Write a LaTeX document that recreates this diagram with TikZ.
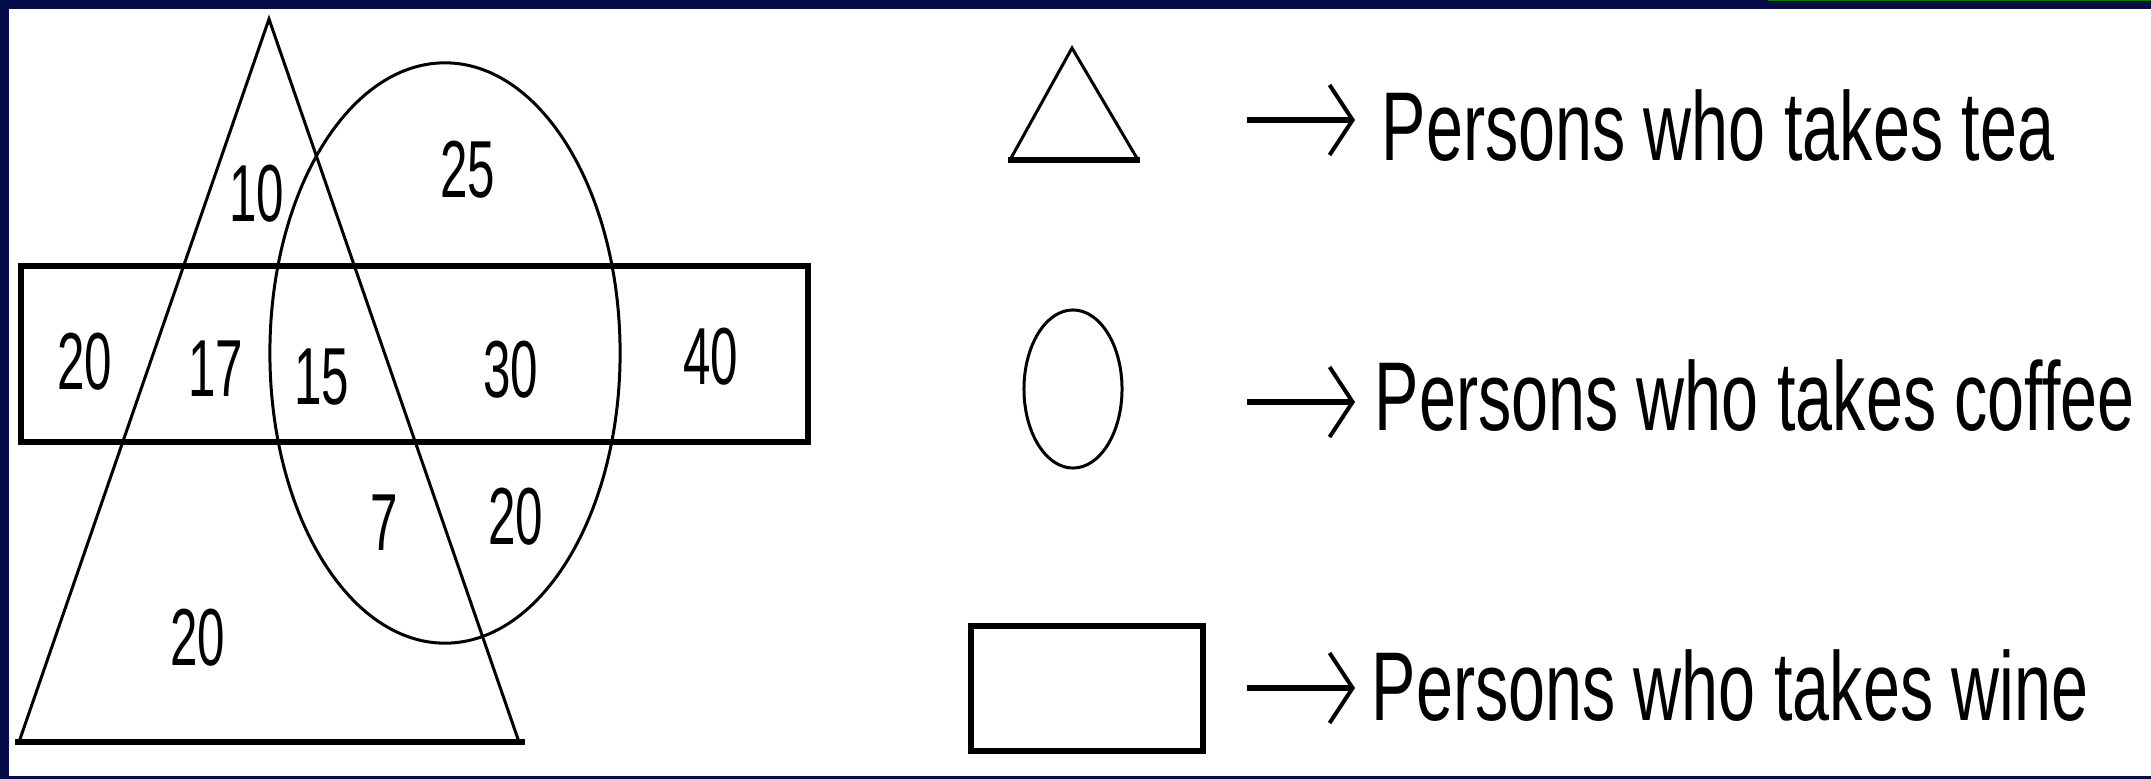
\documentclass[tikz,border=0pt]{standalone}
\usepackage{fontspec}
\setmainfont{Liberation Sans}
\usetikzlibrary{arrows.meta}
\definecolor{navy}{RGB}{6,12,72}
\definecolor{topgreen}{RGB}{0,128,0}
\newcommand{\dg}[1]{\scalebox{0.61}[1]{#1}}
\newcommand{\lgtext}[1]{\scalebox{0.68}[1]{#1}}
\begin{document}
\begin{tikzpicture}[x=0.01cm,y=-0.01cm,
  thinline/.style={line width=0.03cm, line join=miter},
  thickline/.style={line width=0.06cm},
  numlabel/.style={inner sep=0pt, font=\fontsize{23}{23}\selectfont},
  legendtext/.style={inner sep=0pt, anchor=base west, font=\fontsize{27.8}{28}\selectfont},
  legarrow/.style={line width=0.06cm, -{Straight Barb[length=0.23cm,width=0.7cm,line width=0.04cm]}}]

\useasboundingbox (0,0) rectangle (2151,779);
\fill[navy] (0,0) rectangle (2151,779);
\fill[white] (9,9) rectangle (2151,776);
\fill[topgreen] (1768,0) rectangle (2151,1.5);

% Venn diagram
\draw[thinline] (19,742) -- (269,19) -- (519,742);
\draw[thickline] (15,742) -- (525,742);
\draw[thinline] (445,353) ellipse [x radius=1.75cm, y radius=2.9cm];
\draw[thickline] (21,266) rectangle (808,442);

\node[numlabel] (n10)  at (257,194) {\dg{10}};
\node[numlabel] (n25)  at (468,170) {\dg{25}};
\node[numlabel] (n20a) at (85,362)  {\dg{20}};
\node[numlabel] (n17)  at (216,369) {\dg{17}};
\node[numlabel] (n15)  at (322,377) {\dg{15}};
\node[numlabel] (n30)  at (511,370) {\dg{30}};
\node[numlabel] (n40)  at (711,357) {\dg{40}};
\node[numlabel] (n7)   at (384,523) {\dg{7}};
\node[numlabel] (n20b) at (516,517) {\dg{20}};
\node[numlabel] (n20c) at (198,638) {\dg{20}};

% Legend symbols
\draw[thinline] (1010,160) -- (1072,48) -- (1138,160);
\draw[thickline] (1008,160) -- (1140,160);
\draw[thinline] (1073,389) ellipse [x radius=0.49cm, y radius=0.79cm];
\draw[thickline] (971,626) rectangle (1203,751);

% Legend texts
\node[legendtext] (tea)    at (1381,161) {\lgtext{Persons who takes tea}};
\node[legendtext] (coffee) at (1374,430) {\lgtext{Persons who takes coffee}};
\node[legendtext] (wine)   at (1371,720) {\lgtext{Persons who takes wine}};

\coordinate (a1) at (1247,120);
\coordinate (a2) at (1247,402);
\coordinate (a3) at (1247,688);
\draw[legarrow] (a1) -- (1355,120);
\draw[legarrow] (a2) -- (1355,402);
\draw[legarrow] (a3) -- (1355,688);
\end{tikzpicture}
\end{document}
